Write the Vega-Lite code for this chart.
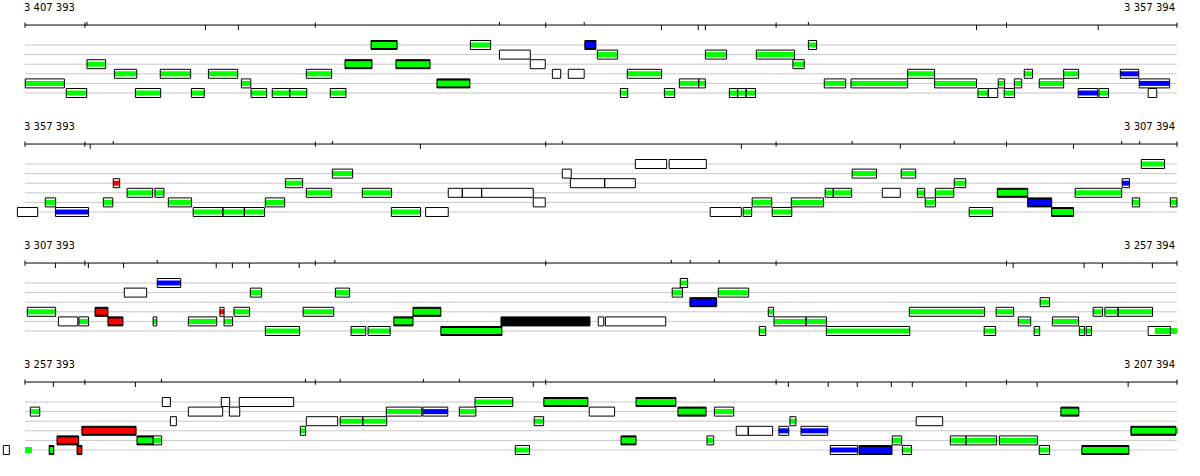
{
"$schema":"https://vega.github.io/schema/vega-lite/v6.json",
"autosize":{"type":"pad"},
"padding":{"left":2,"right":23,"top":0,"bottom":0},
"background":"#ffffff",
"data":{"values":[
{"p":1,"r":"lab","a":"3 407 393","b":"3 357 394"},
{"p":2,"r":"lab","a":"3 357 393","b":"3 307 394"},
{"p":3,"r":"lab","a":"3 307 393","b":"3 257 394"},
{"p":4,"r":"lab","a":"3 257 393","b":"3 207 394"},
{"p":1,"r":"n","l":0},{"p":1,"r":"n","l":1},{"p":1,"r":"n","l":2},{"p":1,"r":"n","l":3},{"p":1,"r":"n","l":4},{"p":1,"r":"n","l":5},
{"p":2,"r":"n","l":0},{"p":2,"r":"n","l":1},{"p":2,"r":"n","l":2},{"p":2,"r":"n","l":3},{"p":2,"r":"n","l":4},{"p":2,"r":"n","l":5},
{"p":3,"r":"n","l":0},{"p":3,"r":"n","l":1},{"p":3,"r":"n","l":2},{"p":3,"r":"n","l":3},{"p":3,"r":"n","l":4},{"p":3,"r":"n","l":5},
{"p":4,"r":"n","l":0},{"p":4,"r":"n","l":1},{"p":4,"r":"n","l":2},{"p":4,"r":"n","l":3},{"p":4,"r":"n","l":4},{"p":4,"r":"n","l":5},
{"p":1,"r":"t","x":0,"d":"b"},{"p":1,"r":"t","x":2600,"d":"b"},{"p":1,"r":"t","x":12600,"d":"b"},{"p":1,"r":"t","x":22600,"d":"b"},{"p":1,"r":"t","x":32600,"d":"b"},{"p":1,"r":"t","x":42600,"d":"b"},{"p":1,"r":"t","x":50000,"d":"b"},
{"p":2,"r":"t","x":0,"d":"b"},{"p":2,"r":"t","x":2600,"d":"b"},{"p":2,"r":"t","x":12600,"d":"b"},{"p":2,"r":"t","x":22600,"d":"b"},{"p":2,"r":"t","x":32600,"d":"b"},{"p":2,"r":"t","x":42600,"d":"b"},{"p":2,"r":"t","x":50000,"d":"b"},
{"p":3,"r":"t","x":0,"d":"b"},{"p":3,"r":"t","x":2600,"d":"b"},{"p":3,"r":"t","x":12600,"d":"b"},{"p":3,"r":"t","x":22600,"d":"b"},{"p":3,"r":"t","x":32600,"d":"b"},{"p":3,"r":"t","x":42600,"d":"b"},{"p":3,"r":"t","x":50000,"d":"b"},
{"p":4,"r":"t","x":0,"d":"b"},{"p":4,"r":"t","x":2600,"d":"b"},{"p":4,"r":"t","x":12600,"d":"b"},{"p":4,"r":"t","x":22600,"d":"b"},{"p":4,"r":"t","x":32600,"d":"b"},{"p":4,"r":"t","x":42600,"d":"b"},{"p":4,"r":"t","x":50000,"d":"b"},
{"p":1,"r":"t","x":2690,"d":"u"},{"p":1,"r":"t","x":20590,"d":"u"},{"p":1,"r":"t","x":24270,"d":"u"},{"p":1,"r":"t","x":34000,"d":"u"},
{"p":1,"r":"t","x":7830,"d":"d"},{"p":1,"r":"t","x":9260,"d":"d"},{"p":1,"r":"t","x":27620,"d":"d"},{"p":1,"r":"t","x":29220,"d":"d"},{"p":1,"r":"t","x":29530,"d":"d"},{"p":1,"r":"t","x":41300,"d":"d"},{"p":1,"r":"t","x":46580,"d":"d"},
{"p":2,"r":"t","x":2830,"d":"d"},{"p":2,"r":"t","x":17160,"d":"d"},{"p":2,"r":"t","x":31090,"d":"d"},{"p":2,"r":"t","x":37990,"d":"d"},{"p":2,"r":"t","x":45510,"d":"d"},
{"p":2,"r":"t","x":3830,"d":"u"},{"p":2,"r":"t","x":13340,"d":"u"},{"p":2,"r":"t","x":23320,"d":"u"},{"p":2,"r":"t","x":35900,"d":"u"},{"p":2,"r":"t","x":40330,"d":"u"},{"p":2,"r":"t","x":47600,"d":"u"},{"p":2,"r":"t","x":48380,"d":"u"},
{"p":3,"r":"t","x":1320,"d":"d"},{"p":3,"r":"t","x":2750,"d":"d"},{"p":3,"r":"t","x":4280,"d":"d"},{"p":3,"r":"t","x":8300,"d":"d"},{"p":3,"r":"t","x":9000,"d":"d"},{"p":3,"r":"t","x":9740,"d":"d"},{"p":3,"r":"t","x":11900,"d":"d"},{"p":3,"r":"t","x":42890,"d":"d"},{"p":3,"r":"t","x":45970,"d":"d"},{"p":3,"r":"t","x":46760,"d":"d"},{"p":3,"r":"t","x":48930,"d":"d"},
{"p":3,"r":"t","x":5740,"d":"u"},{"p":3,"r":"t","x":13450,"d":"u"},{"p":3,"r":"t","x":28050,"d":"u"},{"p":3,"r":"t","x":28870,"d":"u"},{"p":3,"r":"t","x":30130,"d":"u"},
{"p":4,"r":"t","x":1230,"d":"d"},{"p":4,"r":"t","x":4790,"d":"d"},{"p":4,"r":"t","x":22060,"d":"d"},{"p":4,"r":"t","x":33130,"d":"d"},{"p":4,"r":"t","x":34860,"d":"d"},{"p":4,"r":"t","x":36120,"d":"d"},{"p":4,"r":"t","x":37600,"d":"d"},{"p":4,"r":"t","x":38510,"d":"d"},{"p":4,"r":"t","x":40850,"d":"d"},{"p":4,"r":"t","x":43930,"d":"d"},{"p":4,"r":"t","x":47880,"d":"d"},
{"p":4,"r":"t","x":5920,"d":"u"},{"p":4,"r":"t","x":12170,"d":"u"},{"p":4,"r":"t","x":13680,"d":"u"},{"p":4,"r":"t","x":17290,"d":"u"},{"p":4,"r":"t","x":18850,"d":"u"},{"p":4,"r":"t","x":29920,"d":"u"},
{"p":1,"r":"f","s":10,"e":1710,"l":4,"k":"g"},{"p":1,"r":"f","s":1790,"e":2680,"l":5,"k":"g"},{"p":1,"r":"f","s":2690,"e":3500,"l":2,"k":"g"},{"p":1,"r":"f","s":3880,"e":4850,"l":3,"k":"g"},{"p":1,"r":"f","s":4790,"e":5890,"l":5,"k":"g"},{"p":1,"r":"f","s":5870,"e":7190,"l":3,"k":"g"},{"p":1,"r":"f","s":7220,"e":7780,"l":5,"k":"g"},{"p":1,"r":"f","s":7960,"e":9230,"l":3,"k":"g"},{"p":1,"r":"f","s":9390,"e":9800,"l":4,"k":"g"},{"p":1,"r":"f","s":9810,"e":10490,"l":5,"k":"g"},{"p":1,"r":"f","s":10730,"e":11490,"l":5,"k":"g"},{"p":1,"r":"f","s":11490,"e":12230,"l":5,"k":"g"},{"p":1,"r":"f","s":12210,"e":13310,"l":3,"k":"g"},{"p":1,"r":"f","s":13250,"e":13930,"l":5,"k":"g"},{"p":1,"r":"f","s":13890,"e":15060,"l":2,"k":"gk"},{"p":1,"r":"f","s":15020,"e":16150,"l":0,"k":"gk"},{"p":1,"r":"f","s":16100,"e":17580,"l":2,"k":"gk"},{"p":1,"r":"f","s":17880,"e":19310,"l":4,"k":"gk"},{"p":1,"r":"f","s":19330,"e":20210,"l":0,"k":"g"},{"p":1,"r":"f","s":20590,"e":21930,"l":1,"k":"o"},{"p":1,"r":"f","s":21930,"e":22580,"l":2,"k":"o"},{"p":1,"r":"f","s":22890,"e":23250,"l":3,"k":"o"},{"p":1,"r":"f","s":23580,"e":24270,"l":3,"k":"o"},{"p":1,"r":"f","s":24300,"e":24780,"l":0,"k":"bk"},{"p":1,"r":"f","s":24840,"e":25720,"l":1,"k":"g"},{"p":1,"r":"f","s":25840,"e":26160,"l":5,"k":"g"},{"p":1,"r":"f","s":26140,"e":27630,"l":3,"k":"g"},{"p":1,"r":"f","s":27750,"e":28200,"l":5,"k":"g"},{"p":1,"r":"f","s":28400,"e":29240,"l":4,"k":"g"},{"p":1,"r":"f","s":29240,"e":29530,"l":4,"k":"g"},{"p":1,"r":"f","s":29530,"e":30450,"l":1,"k":"g"},{"p":1,"r":"f","s":30570,"e":30930,"l":5,"k":"g"},{"p":1,"r":"f","s":30930,"e":31300,"l":5,"k":"g"},{"p":1,"r":"f","s":31300,"e":31710,"l":5,"k":"g"},{"p":1,"r":"f","s":31740,"e":33400,"l":1,"k":"g"},{"p":1,"r":"f","s":33330,"e":33820,"l":2,"k":"g"},{"p":1,"r":"f","s":34000,"e":34360,"l":0,"k":"g"},{"p":1,"r":"f","s":34690,"e":35620,"l":4,"k":"g"},{"p":1,"r":"f","s":35850,"e":38310,"l":4,"k":"g"},{"p":1,"r":"f","s":38310,"e":39480,"l":3,"k":"g"},{"p":1,"r":"f","s":39480,"e":41300,"l":4,"k":"g"},{"p":1,"r":"f","s":41360,"e":41810,"l":5,"k":"g"},{"p":1,"r":"f","s":41810,"e":42220,"l":5,"k":"o"},{"p":1,"r":"f","s":42240,"e":42520,"l":4,"k":"g"},{"p":1,"r":"f","s":42500,"e":42950,"l":5,"k":"g"},{"p":1,"r":"f","s":42940,"e":43260,"l":4,"k":"g"},{"p":1,"r":"f","s":43370,"e":43730,"l":3,"k":"g"},{"p":1,"r":"f","s":44020,"e":45080,"l":4,"k":"g"},{"p":1,"r":"f","s":45080,"e":45730,"l":3,"k":"g"},{"p":1,"r":"f","s":45710,"e":46560,"l":5,"k":"b"},{"p":1,"r":"f","s":46610,"e":47030,"l":5,"k":"g"},{"p":1,"r":"f","s":47540,"e":48340,"l":3,"k":"b"},{"p":1,"r":"f","s":48360,"e":49680,"l":4,"k":"b"},{"p":1,"r":"f","s":48750,"e":49120,"l":5,"k":"o"},
{"p":2,"r":"f","s":-330,"e":550,"l":5,"k":"o"},{"p":2,"r":"f","s":880,"e":1330,"l":4,"k":"g"},{"p":2,"r":"f","s":1320,"e":2760,"l":5,"k":"b"},{"p":2,"r":"f","s":3400,"e":3810,"l":4,"k":"g"},{"p":2,"r":"f","s":3830,"e":4110,"l":2,"k":"r"},{"p":2,"r":"f","s":4430,"e":5540,"l":3,"k":"g"},{"p":2,"r":"f","s":5640,"e":6030,"l":3,"k":"g"},{"p":2,"r":"f","s":6220,"e":7230,"l":4,"k":"g"},{"p":2,"r":"f","s":7300,"e":8590,"l":5,"k":"g"},{"p":2,"r":"f","s":8590,"e":9520,"l":5,"k":"g"},{"p":2,"r":"f","s":9520,"e":10400,"l":5,"k":"g"},{"p":2,"r":"f","s":10430,"e":11270,"l":4,"k":"g"},{"p":2,"r":"f","s":11300,"e":12050,"l":2,"k":"g"},{"p":2,"r":"f","s":12210,"e":13310,"l":3,"k":"g"},{"p":2,"r":"f","s":13340,"e":14220,"l":1,"k":"g"},{"p":2,"r":"f","s":14640,"e":15910,"l":3,"k":"g"},{"p":2,"r":"f","s":15900,"e":17170,"l":5,"k":"g"},{"p":2,"r":"f","s":17390,"e":18370,"l":5,"k":"o"},{"p":2,"r":"f","s":18370,"e":18980,"l":3,"k":"o"},{"p":2,"r":"f","s":18980,"e":19820,"l":3,"k":"o"},{"p":2,"r":"f","s":19820,"e":22060,"l":3,"k":"o"},{"p":2,"r":"f","s":22060,"e":22580,"l":4,"k":"o"},{"p":2,"r":"f","s":23320,"e":23710,"l":1,"k":"o"},{"p":2,"r":"f","s":23670,"e":25160,"l":2,"k":"o"},{"p":2,"r":"f","s":25160,"e":26490,"l":2,"k":"o"},{"p":2,"r":"f","s":26490,"e":27850,"l":0,"k":"o"},{"p":2,"r":"f","s":27960,"e":29570,"l":0,"k":"o"},{"p":2,"r":"f","s":29740,"e":31090,"l":5,"k":"o"},{"p":2,"r":"f","s":31170,"e":31540,"l":5,"k":"g"},{"p":2,"r":"f","s":31560,"e":32410,"l":4,"k":"g"},{"p":2,"r":"f","s":32430,"e":33280,"l":5,"k":"g"},{"p":2,"r":"f","s":33260,"e":34660,"l":4,"k":"g"},{"p":2,"r":"f","s":34730,"e":35080,"l":3,"k":"g"},{"p":2,"r":"f","s":35080,"e":35880,"l":3,"k":"g"},{"p":2,"r":"f","s":35900,"e":36960,"l":1,"k":"g"},{"p":2,"r":"f","s":37210,"e":37990,"l":3,"k":"o"},{"p":2,"r":"f","s":38030,"e":38660,"l":1,"k":"g"},{"p":2,"r":"f","s":38730,"e":39050,"l":3,"k":"g"},{"p":2,"r":"f","s":39070,"e":39520,"l":4,"k":"g"},{"p":2,"r":"f","s":39510,"e":40310,"l":3,"k":"g"},{"p":2,"r":"f","s":40330,"e":40830,"l":2,"k":"g"},{"p":2,"r":"f","s":40980,"e":42000,"l":5,"k":"g"},{"p":2,"r":"f","s":42200,"e":43520,"l":3,"k":"gk"},{"p":2,"r":"f","s":43520,"e":44560,"l":4,"k":"bk"},{"p":2,"r":"f","s":44560,"e":45510,"l":5,"k":"gk"},{"p":2,"r":"f","s":45580,"e":47600,"l":3,"k":"g"},{"p":2,"r":"f","s":47620,"e":47940,"l":2,"k":"b"},{"p":2,"r":"f","s":48060,"e":48380,"l":4,"k":"g"},{"p":2,"r":"f","s":48450,"e":49460,"l":0,"k":"g"},{"p":2,"r":"f","s":49710,"e":50000,"l":4,"k":"g"},
{"p":3,"r":"f","s":100,"e":1330,"l":3,"k":"g"},{"p":3,"r":"f","s":1450,"e":2290,"l":4,"k":"o"},{"p":3,"r":"f","s":2340,"e":2760,"l":4,"k":"g"},{"p":3,"r":"f","s":3040,"e":3600,"l":3,"k":"rk"},{"p":3,"r":"f","s":3600,"e":4250,"l":4,"k":"rk"},{"p":3,"r":"f","s":4310,"e":5280,"l":1,"k":"o"},{"p":3,"r":"f","s":5560,"e":5720,"l":4,"k":"g"},{"p":3,"r":"f","s":5740,"e":6760,"l":0,"k":"b"},{"p":3,"r":"f","s":7090,"e":8320,"l":4,"k":"g"},{"p":3,"r":"f","s":8460,"e":8640,"l":3,"k":"r"},{"p":3,"r":"f","s":8640,"e":9010,"l":4,"k":"g"},{"p":3,"r":"f","s":9070,"e":9750,"l":3,"k":"g"},{"p":3,"r":"f","s":9780,"e":10270,"l":1,"k":"g"},{"p":3,"r":"f","s":10430,"e":11920,"l":5,"k":"g"},{"p":3,"r":"f","s":12070,"e":13400,"l":3,"k":"g"},{"p":3,"r":"f","s":13470,"e":14090,"l":1,"k":"g"},{"p":3,"r":"f","s":14150,"e":14790,"l":5,"k":"g"},{"p":3,"r":"f","s":14890,"e":15850,"l":5,"k":"g"},{"p":3,"r":"f","s":16010,"e":16840,"l":4,"k":"gk"},{"p":3,"r":"f","s":16840,"e":18050,"l":3,"k":"gk"},{"p":3,"r":"f","s":18050,"e":20700,"l":5,"k":"gk"},{"p":3,"r":"f","s":20660,"e":24520,"l":4,"k":"k"},{"p":3,"r":"f","s":24880,"e":25120,"l":4,"k":"o"},{"p":3,"r":"f","s":25190,"e":27810,"l":4,"k":"o"},{"p":3,"r":"f","s":28090,"e":28540,"l":1,"k":"g"},{"p":3,"r":"f","s":28440,"e":28760,"l":0,"k":"g"},{"p":3,"r":"f","s":28860,"e":30020,"l":2,"k":"bk"},{"p":3,"r":"f","s":30090,"e":31410,"l":1,"k":"g"},{"p":3,"r":"f","s":31870,"e":32150,"l":5,"k":"g"},{"p":3,"r":"f","s":32260,"e":32490,"l":3,"k":"g"},{"p":3,"r":"f","s":32510,"e":33900,"l":4,"k":"g"},{"p":3,"r":"f","s":33900,"e":34790,"l":4,"k":"g"},{"p":3,"r":"f","s":34780,"e":38400,"l":5,"k":"g"},{"p":3,"r":"f","s":38380,"e":41650,"l":3,"k":"g"},{"p":3,"r":"f","s":41630,"e":42130,"l":5,"k":"g"},{"p":3,"r":"f","s":42150,"e":42910,"l":3,"k":"g"},{"p":3,"r":"f","s":43110,"e":43650,"l":4,"k":"g"},{"p":3,"r":"f","s":43800,"e":44040,"l":5,"k":"g"},{"p":3,"r":"f","s":44060,"e":44470,"l":2,"k":"g"},{"p":3,"r":"f","s":44590,"e":45730,"l":4,"k":"g"},{"p":3,"r":"f","s":45760,"e":45990,"l":5,"k":"g"},{"p":3,"r":"f","s":46060,"e":46290,"l":5,"k":"g"},{"p":3,"r":"f","s":46360,"e":46770,"l":3,"k":"g"},{"p":3,"r":"f","s":46870,"e":47440,"l":3,"k":"g"},{"p":3,"r":"f","s":47440,"e":48940,"l":3,"k":"g"},{"p":3,"r":"f","s":48750,"e":49710,"l":5,"k":"o"},{"p":3,"r":"f","s":49040,"e":50000,"l":5,"k":"gx"},
{"p":4,"r":"f","s":-940,"e":-680,"l":5,"k":"o"},{"p":4,"r":"f","s":0,"e":300,"l":5,"k":"gx"},{"p":4,"r":"f","s":230,"e":640,"l":1,"k":"g"},{"p":4,"r":"f","s":1050,"e":1250,"l":5,"k":"gk"},{"p":4,"r":"f","s":1390,"e":2330,"l":4,"k":"rk"},{"p":4,"r":"f","s":2260,"e":2470,"l":5,"k":"rk"},{"p":4,"r":"f","s":2470,"e":4820,"l":3,"k":"rk"},{"p":4,"r":"f","s":4860,"e":5560,"l":4,"k":"gk"},{"p":4,"r":"f","s":5560,"e":5930,"l":4,"k":"g"},{"p":4,"r":"f","s":5960,"e":6310,"l":0,"k":"o"},{"p":4,"r":"f","s":6310,"e":6570,"l":2,"k":"o"},{"p":4,"r":"f","s":7090,"e":8580,"l":1,"k":"o"},{"p":4,"r":"f","s":8520,"e":8880,"l":0,"k":"o"},{"p":4,"r":"f","s":8870,"e":9320,"l":1,"k":"o"},{"p":4,"r":"f","s":9300,"e":11660,"l":0,"k":"o"},{"p":4,"r":"f","s":11950,"e":12180,"l":3,"k":"g"},{"p":4,"r":"f","s":12210,"e":13570,"l":2,"k":"o"},{"p":4,"r":"f","s":13680,"e":14660,"l":2,"k":"g"},{"p":4,"r":"f","s":14660,"e":15700,"l":2,"k":"g"},{"p":4,"r":"f","s":15680,"e":17220,"l":1,"k":"g"},{"p":4,"r":"f","s":17270,"e":18350,"l":1,"k":"b"},{"p":4,"r":"f","s":18850,"e":19570,"l":1,"k":"g"},{"p":4,"r":"f","s":19530,"e":21170,"l":0,"k":"g"},{"p":4,"r":"f","s":21280,"e":21900,"l":5,"k":"g"},{"p":4,"r":"f","s":22100,"e":22510,"l":2,"k":"g"},{"p":4,"r":"f","s":22520,"e":24430,"l":0,"k":"gk"},{"p":4,"r":"f","s":24490,"e":25590,"l":1,"k":"o"},{"p":4,"r":"f","s":25870,"e":26520,"l":4,"k":"gk"},{"p":4,"r":"f","s":26520,"e":28250,"l":0,"k":"gk"},{"p":4,"r":"f","s":28340,"e":29560,"l":1,"k":"gk"},{"p":4,"r":"f","s":29600,"e":29890,"l":4,"k":"g"},{"p":4,"r":"f","s":29920,"e":30760,"l":1,"k":"g"},{"p":4,"r":"f","s":30870,"e":31390,"l":3,"k":"o"},{"p":4,"r":"f","s":31390,"e":32450,"l":3,"k":"o"},{"p":4,"r":"f","s":32720,"e":33150,"l":3,"k":"b"},{"p":4,"r":"f","s":33200,"e":33460,"l":2,"k":"g"},{"p":4,"r":"f","s":33680,"e":34840,"l":3,"k":"b"},{"p":4,"r":"f","s":34950,"e":36140,"l":5,"k":"b"},{"p":4,"r":"f","s":36200,"e":37630,"l":5,"k":"bk"},{"p":4,"r":"f","s":37640,"e":38050,"l":4,"k":"g"},{"p":4,"r":"f","s":38080,"e":38480,"l":5,"k":"g"},{"p":4,"r":"f","s":38680,"e":39830,"l":2,"k":"o"},{"p":4,"r":"f","s":40160,"e":40840,"l":4,"k":"g"},{"p":4,"r":"f","s":40840,"e":42170,"l":4,"k":"g"},{"p":4,"r":"f","s":42290,"e":43950,"l":4,"k":"g"},{"p":4,"r":"f","s":44020,"e":44470,"l":5,"k":"g"},{"p":4,"r":"f","s":44960,"e":45740,"l":1,"k":"gk"},{"p":4,"r":"f","s":45870,"e":47910,"l":5,"k":"gk"},{"p":4,"r":"f","s":48000,"e":49950,"l":3,"k":"k"},{"p":4,"r":"f","s":48040,"e":50040,"l":3,"k":"gx"}
]},
"facet":{"row":{"field":"p","type":"ordinal","title":null,"header":{"title":null,"labels":false,"labelPadding":0,"titlePadding":0}}},
"spacing":0,
"bounds":"flush",
"spec":{
"width":1152,
"height":119,
"layer":[
{"transform":[{"filter":"datum.r=='n'"}],
"mark":{"type":"rule","color":"#c8c8c8","strokeWidth":1},
"encoding":{"x":{"datum":0,"type":"quantitative","scale":{"domain":[0,50000],"nice":false,"zero":false,"padding":0},"axis":null},"x2":{"datum":50000},
"y":{"field":"l","type":"quantitative","scale":{"domain":[-4.6875,7.7083],"reverse":true,"nice":false,"zero":false,"padding":0},"axis":null}}},
{"transform":[{"filter":"datum.r=='lab'"}],
"mark":{"type":"rule","color":"#000000","strokeWidth":1},
"encoding":{"x":{"datum":0,"type":"quantitative","axis":null},"x2":{"datum":50000},"y":{"datum":-2.08,"type":"quantitative","axis":null}}},
{"transform":[{"filter":"datum.r=='t' && datum.d=='b'"}],
"mark":{"type":"rule","color":"#000000","strokeWidth":1},
"encoding":{"x":{"field":"x","type":"quantitative","axis":null},"y":{"datum":-2.34,"type":"quantitative","axis":null},"y2":{"datum":-1.8}}},
{"transform":[{"filter":"datum.r=='t' && datum.d=='u'"}],
"mark":{"type":"rule","color":"#000000","strokeWidth":1},
"encoding":{"x":{"field":"x","type":"quantitative","axis":null},"y":{"datum":-2.4,"type":"quantitative","axis":null},"y2":{"datum":-2.08}}},
{"transform":[{"filter":"datum.r=='t' && datum.d=='d'"}],
"mark":{"type":"rule","color":"#000000","strokeWidth":1},
"encoding":{"x":{"field":"x","type":"quantitative","axis":null},"y":{"datum":-2.08,"type":"quantitative","axis":null},"y2":{"datum":-1.56}}},
{"transform":[{"filter":"datum.r=='lab'"}],
"mark":{"type":"text","align":"left","baseline":"alphabetic","font":"DejaVu Sans","fontSize":10,"color":"#000000","dx":-1},
"encoding":{"x":{"datum":0,"type":"quantitative","axis":null},"y":{"datum":-3.57,"type":"quantitative","axis":null},"text":{"field":"a"}}},
{"transform":[{"filter":"datum.r=='lab'"}],
"mark":{"type":"text","align":"right","baseline":"alphabetic","font":"DejaVu Sans","fontSize":10,"color":"#000000","dx":-2},
"encoding":{"x":{"datum":50000,"type":"quantitative","axis":null},"y":{"datum":-3.57,"type":"quantitative","axis":null},"text":{"field":"b"}}},
{"transform":[{"filter":"datum.r=='f' && datum.k!='gx'"}],
"mark":{"type":"bar","orient":"horizontal","size":9},
"encoding":{"x":{"field":"s","type":"quantitative","axis":null},"x2":{"field":"e"},"y":{"field":"l","type":"quantitative","axis":null},
"fill":{"condition":{"test":"indexof(['gk','bk','rk','k'], datum.k) >= 0","value":"#000000"},"value":"#ffffff"}}},
{"transform":[{"filter":"datum.r=='f' && datum.k!='o' && datum.k!='k'"}],
"mark":{"type":"bar","orient":"horizontal"},
"encoding":{"x":{"field":"s","type":"quantitative","axis":null},"x2":{"field":"e"},"y":{"field":"l","type":"quantitative","axis":null},
"size":{"condition":{"test":"indexof(['gk','bk','rk','gx'], datum.k) >= 0","value":6},"value":5},
"fill":{"condition":[{"test":"datum.k=='b' || datum.k=='bk'","value":"#0000ff"},{"test":"datum.k=='r' || datum.k=='rk'","value":"#ff0000"}],"value":"#00ff00"}}},
{"transform":[{"filter":"datum.r=='f' && datum.k!='gx'"}],
"mark":{"type":"bar","orient":"horizontal","size":9,"fill":"transparent","stroke":"#000000","strokeWidth":1},
"encoding":{"x":{"field":"s","type":"quantitative","axis":null},"x2":{"field":"e"},"y":{"field":"l","type":"quantitative","axis":null}}}
]},
"config":{"view":{"stroke":null}}
}
